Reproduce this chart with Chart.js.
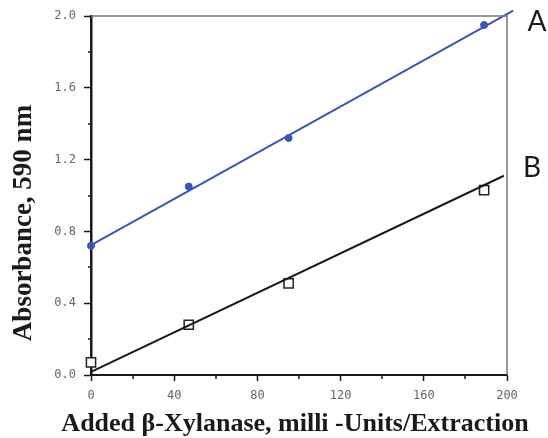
<!DOCTYPE html>
<html>
<head>
<meta charset="utf-8">
<script src="https://cdn.jsdelivr.net/npm/chart.js@4/dist/chart.umd.min.js"></script>
<style>
  html, body { margin: 0; padding: 0; background: #fff; }
  #wrap { width: 548px; height: 438px; }
</style>
</head>
<body>
<div id="wrap"><canvas id="chart"></canvas></div>
<script>
// ---------- Data ----------
const xA = [0, 47, 95, 189];
const yA = [0.72, 1.05, 1.32, 1.95];
const xB = [0, 47, 95, 189];
const yB = [0.07, 0.28, 0.51, 1.03];

// fitted regression lines (end points)
const fitAX = [0, 203];
const fitAY = [0.724, 2.03];
const fitBX = [0, 198.5];
const fitBY = [0.017, 1.11];

const xTicks = [0, 40, 80, 120, 160, 200];
const yTicks = [0.0, 0.4, 0.8, 1.2, 1.6, 2.0];
const seriesNames = ["A", "B"];

const xTitle = "Added \u03B2-Xylanase, milli -Units/Extraction";
const yTitle = "Absorbance, 590 nm";

const BLUE = "#3b55b4";
const INK = "#1a1a1a";

const pts = (xs, ys) => xs.map((v, i) => ({ x: v, y: ys[i] }));

// ---------- frame, minor ticks, titles, A/B labels ----------
const decor = {
  id: "decor",
  afterDraw(chart) {
    const { ctx, chartArea: a, scales: { x, y } } = chart;
    ctx.save();

    // grey top / right frame
    ctx.strokeStyle = "#777";
    ctx.lineWidth = 1.5;
    ctx.beginPath();
    ctx.moveTo(a.left, a.top);
    ctx.lineTo(a.right, a.top);
    ctx.lineTo(a.right, a.bottom);
    ctx.stroke();

    // minor ticks halfway between the major ones
    ctx.strokeStyle = INK;
    ctx.lineWidth = 1.5;
    ctx.beginPath();
    for (let i = 0; i < xTicks.length - 1; i++) {
      const px = Math.round(x.getPixelForValue((xTicks[i] + xTicks[i + 1]) / 2));
      ctx.moveTo(px, a.bottom);
      ctx.lineTo(px, a.bottom + 4);
    }
    for (let i = 0; i < yTicks.length - 1; i++) {
      const py = Math.round(y.getPixelForValue((yTicks[i] + yTicks[i + 1]) / 2));
      ctx.moveTo(a.left, py);
      ctx.lineTo(a.left - 3, py);
    }
    ctx.stroke();

    // axis titles
    ctx.fillStyle = INK;
    ctx.textAlign = "center";
    ctx.textBaseline = "alphabetic";
    ctx.font = "bold 26px 'Liberation Serif', 'Times New Roman', serif";
    ctx.fillText(xTitle, 295, 431);
    ctx.font = "bold 27px 'Liberation Serif', 'Times New Roman', serif";
    ctx.translate(31, 223);
    ctx.rotate(-Math.PI / 2);
    ctx.fillText(yTitle, 0, 0);
    ctx.setTransform(1, 0, 0, 1, 0, 0);

    // series labels at the line ends
    ctx.font = "28px 'Lato', 'Open Sans', sans-serif";
    ctx.textAlign = "center";
    ctx.fillText(seriesNames[0], a.right + 30, y.getPixelForValue(fitAY[1]) + 20);
    ctx.fillText(seriesNames[1], a.right + 25, y.getPixelForValue(fitBY[1]) + 1);

    ctx.restore();
  },
};

const ctx = document.getElementById("chart").getContext("2d");
new Chart(ctx, {
  type: "scatter",
  data: {
    datasets: [
      {
        label: "A fit",
        data: pts(fitAX, fitAY),
        showLine: true,
        borderColor: BLUE,
        borderWidth: 2,
        pointRadius: 0,
        clip: false,
      },
      {
        label: "B fit",
        data: pts(fitBX, fitBY),
        showLine: true,
        borderColor: INK,
        borderWidth: 2,
        pointRadius: 0,
        clip: false,
      },
      {
        label: seriesNames[0],
        data: pts(xA, yA),
        pointStyle: "circle",
        pointRadius: 3.5,
        backgroundColor: BLUE,
        borderColor: BLUE,
        borderWidth: 1,
        clip: false,
      },
      {
        label: seriesNames[1],
        data: pts(xB, yB),
        pointStyle: "rect",
        pointRadius: 6.5,
        backgroundColor: "#fff",
        borderColor: "#222",
        borderWidth: 1.5,
        clip: false,
      },
    ],
  },
  options: {
    responsive: true,
    maintainAspectRatio: false,
    animation: false,
    layout: { padding: { top: 16, right: 41, left: 0, bottom: 0 } },
    plugins: {
      legend: { display: false },
      tooltip: { enabled: false },
    },
    scales: {
      x: {
        type: "linear",
        min: xTicks[0],
        max: xTicks[xTicks.length - 1],
        afterBuildTicks: (s) => { s.ticks = xTicks.map((v) => ({ value: v })); },
        afterFit: (s) => { s.height = 63; },
        grid: { drawOnChartArea: false, drawTicks: true, tickLength: 6, tickColor: INK, tickWidth: 1.5 },
        border: { color: INK, width: 2 },
        ticks: {
          color: "#666",
          padding: 8,
          maxRotation: 0,
          font: { family: "'DejaVu Sans Mono', monospace", size: 12 },
          callback: (v) => String(v),
        },
      },
      y: {
        type: "linear",
        min: yTicks[0],
        max: yTicks[yTicks.length - 1],
        afterBuildTicks: (s) => { s.ticks = yTicks.map((v) => ({ value: v })); },
        afterFit: (s) => { s.width = 91; },
        grid: { drawOnChartArea: false, drawTicks: true, tickLength: 7, tickColor: INK, tickWidth: 1.5 },
        border: { color: INK, width: 2.5 },
        ticks: {
          color: "#666",
          padding: 8,
          font: { family: "'DejaVu Sans Mono', monospace", size: 12 },
          callback: (v) => Number(v).toFixed(1),
        },
      },
    },
  },
  plugins: [decor],
});
</script>
</body>
</html>
